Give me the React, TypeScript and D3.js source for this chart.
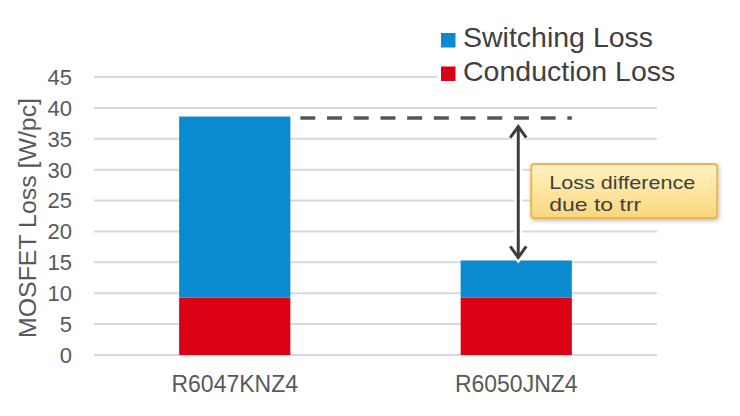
import React from "react";
import * as d3 from "d3";

const categories = ["R6047KNZ4", "R6050JNZ4"];
const conductionLoss = [9.3, 9.3];
const switchingLoss = [29.3, 6.0];
const yTicks = [0, 5, 10, 15, 20, 25, 30, 35, 40, 45];
const seriesNames = ["Conduction Loss", "Switching Loss"];
const legendOrder = ["Switching Loss", "Conduction Loss"];
const colors: Record<string, string> = {
  "Switching Loss": "#0a8bd0",
  "Conduction Loss": "#dc0014",
};
const yTitle = "MOSFET Loss [W/pc]";
const calloutLines = ["Loss difference", "due to trr"];

const W = 740;
const H = 416;
const margin = { top: 77, right: 83, bottom: 61, left: 94 };

export default function App() {
  const x = d3
    .scaleBand<string>()
    .domain(categories)
    .range([margin.left, W - margin.right])
    .paddingInner(0.605)
    .paddingOuter(0.3025);
  const y = d3.scaleLinear().domain([0, 45]).range([H - margin.bottom, margin.top]);

  const rows = categories.map((c, i) => ({
    cat: c,
    "Conduction Loss": conductionLoss[i],
    "Switching Loss": switchingLoss[i],
  }));
  const stack = d3.stack<any>().keys(seriesNames)(rows);

  const totals = categories.map((_, i) => conductionLoss[i] + switchingLoss[i]);
  const bar1Right = (x(categories[0]) ?? 0) + x.bandwidth();
  const bar2Left = x(categories[1]) ?? 0;
  const bar2Right = bar2Left + x.bandwidth();
  const arrowX = bar2Left + x.bandwidth() / 2 + 2;
  const dashY = y(totals[0]) + 1.5;
  const arrowTop = y(totals[0]) + 10;
  const arrowBot = y(totals[1]) - 3;

  const boxX = arrowX + 13;
  const boxY = y(30.9);
  const boxW = 186;
  const boxH = 54;

  const arrowPath = `M${arrowX},${arrowTop} L${arrowX},${arrowBot}`;
  const headTop = `M${arrowX - 8},${arrowTop + 11} L${arrowX},${arrowTop} L${arrowX + 8},${arrowTop + 11}`;
  const headBot = `M${arrowX - 8},${arrowBot - 11} L${arrowX},${arrowBot} L${arrowX + 8},${arrowBot - 11}`;

  return (
    <svg
      width={W}
      height={H}
      style={{ position: "absolute", left: 0, top: 0, background: "#fff" }}
      fontFamily="'Liberation Sans', Arial, sans-serif"
    >
      <defs>
        <linearGradient id="callout" x1="0" y1="0" x2="0" y2="1">
          <stop offset="0" stopColor="#fff3c4" />
          <stop offset="1" stopColor="#fbd77c" />
        </linearGradient>
        <filter id="shadow" x="-10%" y="-20%" width="130%" height="150%">
          <feDropShadow dx="1" dy="2" stdDeviation="2" floodColor="#000" floodOpacity="0.25" />
        </filter>
      </defs>

      {/* gridlines */}
      {yTicks.map((t) => (
        <line
          key={t}
          x1={margin.left}
          x2={W - margin.right}
          y1={y(t)}
          y2={y(t)}
          stroke="#d9d9d9"
          strokeWidth={2}
        />
      ))}

      {/* tick labels */}
      {yTicks.map((t) => (
        <text
          key={"l" + t}
          x={72}
          y={y(t)}
          dy="0.36em"
          textAnchor="end"
          fontSize={22}
          fill="#595959"
        >
          {t}
        </text>
      ))}

      {/* y title */}
      <text
        transform={`translate(36,${(margin.top + H - margin.bottom) / 2 + 2}) rotate(-90)`}
        textAnchor="middle"
        fontSize={23}
        fill="#595959"
        textLength={240}
        lengthAdjust="spacingAndGlyphs"
      >
        {yTitle}
      </text>

      {/* bars */}
      {stack.map((s) =>
        s.map((d, i) => (
          <rect
            key={s.key + i}
            x={x(categories[i])}
            width={x.bandwidth()}
            y={y(d[1])}
            height={y(d[0]) - y(d[1])}
            fill={colors[s.key]}
          />
        ))
      )}

      {/* x labels */}
      {categories.map((c) => (
        <text
          key={c}
          x={(x(c) ?? 0) + x.bandwidth() / 2}
          y={392}
          textAnchor="middle"
          fontSize={23}
          fill="#595959"
        >
          {c}
        </text>
      ))}

      {/* dashed reference line */}
      <line
        x1={bar1Right + 10}
        x2={bar2Right}
        y1={dashY}
        y2={dashY}
        stroke="#555"
        strokeWidth={3.5}
        strokeDasharray="15 11.7"
      />

      {/* double arrow */}
      <g fill="none" strokeLinecap="butt">
        <path d={arrowPath} stroke="#fff" strokeWidth={8} />
        <path d={headTop} stroke="#fff" strokeWidth={7} />
        <path d={headBot} stroke="#fff" strokeWidth={7} />
        <path d={arrowPath} stroke="#3d3d3d" strokeWidth={3} />
        <path d={headTop} stroke="#3d3d3d" strokeWidth={3} strokeLinejoin="miter" />
        <path d={headBot} stroke="#3d3d3d" strokeWidth={3} strokeLinejoin="miter" />
      </g>

      {/* callout */}
      <rect
        x={boxX}
        y={boxY}
        width={boxW}
        height={boxH}
        rx={3}
        fill="url(#callout)"
        stroke="#f0b44e"
        strokeWidth={2}
        filter="url(#shadow)"
      />
      {calloutLines.map((l, i) => (
        <text
          key={l}
          x={boxX + 18}
          y={boxY + 25 + i * 21.5}
          fontSize={19}
          fill="#404040"
          textLength={i === 0 ? 146 : 92}
          lengthAdjust="spacingAndGlyphs"
        >
          {l}
        </text>
      ))}

      {/* legend */}
      <rect x={437} y={20} width={250} height={72} fill="#fff" />
      {legendOrder.map((name, i) => (
        <g key={name}>
          <rect x={441} y={33 + i * 33.5} width={14.5} height={14.5} fill={colors[name]} />
          <text x={463} y={47 + i * 34} fontSize={28.5} fill="#404040">
            {name}
          </text>
        </g>
      ))}
    </svg>
  );
}
